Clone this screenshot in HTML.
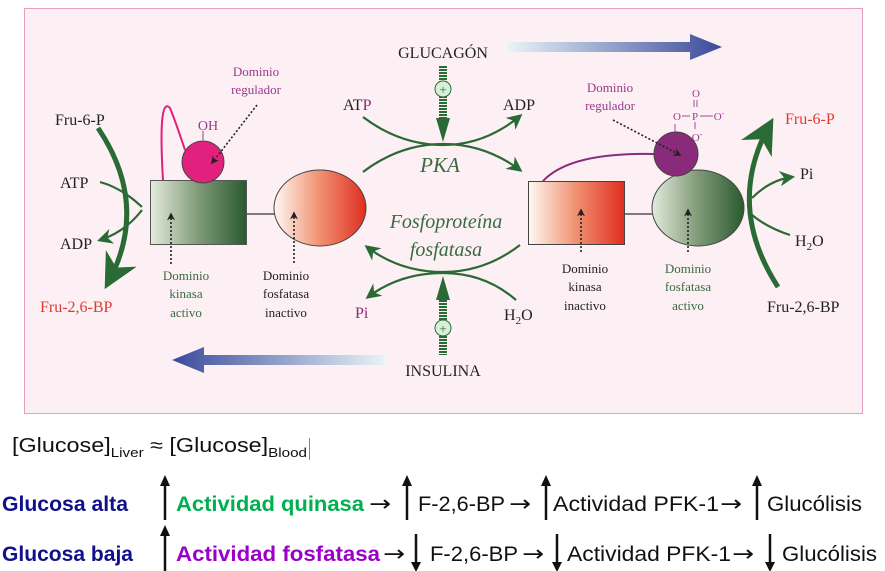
<!DOCTYPE html>
<html><head><meta charset="utf-8"><style>
html,body{margin:0;padding:0;background:#fff;width:885px;height:571px;overflow:hidden}
svg{display:block}
.s{font-family:"Liberation Serif",serif}
.n{font-family:"Liberation Sans",sans-serif;font-size:21px}
.ar{font-family:"DejaVu Sans",sans-serif;font-size:22px}
</style></head><body>
<svg width="885" height="571" viewBox="0 0 885 571" xmlns="http://www.w3.org/2000/svg">
<defs>
<linearGradient id="gk" x1="0" x2="1"><stop offset="0" stop-color="#e4ebdc"/><stop offset="0.5" stop-color="#809a78"/><stop offset="1" stop-color="#2a5a30"/></linearGradient>
<linearGradient id="rf" x1="0" x2="1"><stop offset="0" stop-color="#fff8f2"/><stop offset="0.5" stop-color="#f09070"/><stop offset="1" stop-color="#e02e20"/></linearGradient>
<linearGradient id="bl" x1="0" x2="1"><stop offset="0" stop-color="#e8f4f8"/><stop offset="1" stop-color="#3a4a9a"/></linearGradient>
<linearGradient id="bl2" x1="1" x2="0"><stop offset="0" stop-color="#e8f4f8"/><stop offset="1" stop-color="#3a4a9a"/></linearGradient>
<pattern id="hatch" width="8" height="3" patternUnits="userSpaceOnUse"><rect width="8" height="2" fill="#2a6a35"/></pattern>
<marker id="ah" viewBox="0 0 10 10" refX="8" refY="5" markerWidth="7" markerHeight="7" orient="auto-start-reverse"><path d="M0,0 L10,5 L0,10 L3,5z" fill="#2a6a35"/></marker>
<marker id="ahb" viewBox="0 0 10 10" refX="8" refY="5" markerWidth="5" markerHeight="5" orient="auto"><path d="M0,0 L10,5 L0,10 L3,5z" fill="#222"/></marker>
</defs>
<rect x="24.5" y="8.5" width="838" height="405" fill="#fdf0f5" stroke="#e4a0c4"/>

<path d="M508,42 H690 V34 L722,47 L690,60 V52 H508z" fill="url(#bl)"/>
<path d="M385,355 H204 V347 L172,360 L204,373 V365 H385z" fill="url(#bl2)"/>

<g class="s" font-size="16" fill="#222">
<text x="443" y="58" text-anchor="middle">GLUCAGÓN</text>
<text x="443" y="376" text-anchor="middle">INSULINA</text>
<text x="343" y="110">AT<tspan fill="#8a2a7a">P</tspan></text>
<text x="503" y="110">ADP</text>
<text x="55" y="125">Fru-6-P</text>
<text x="60" y="188">ATP</text>
<text x="60" y="249">ADP</text>
<text x="40" y="312" fill="#e03a30">Fru-2,6-BP</text>
<text x="355" y="318" fill="#8a2a7a">Pi</text>
<text x="504" y="320">H<tspan font-size="11" dy="4">2</tspan><tspan dy="-4">O</tspan></text>
<text x="785" y="124" fill="#e03a30">Fru-6-P</text>
<text x="800" y="179">Pi</text>
<text x="795" y="246">H<tspan font-size="11" dy="4">2</tspan><tspan dy="-4">O</tspan></text>
<text x="767" y="312">Fru-2,6-BP</text>
</g>
<g class="s" font-style="italic" fill="#3a6a40" text-anchor="middle">
<text x="440" y="172" font-size="21">PKA</text>
<text x="446" y="228" font-size="20">Fosfoproteína</text>
<text x="446" y="256" font-size="20">fosfatasa</text>
</g>

<rect x="439" y="66" width="8" height="58" fill="url(#hatch)"/>
<path d="M436,118 L443,142 L450,118z" fill="#2a6a35"/>
<circle cx="443" cy="89" r="8" fill="#d8f0d8" stroke="#2a6a35"/>
<text x="443" y="94" class="s" font-size="13" fill="#2a6a35" text-anchor="middle">+</text>
<rect x="439" y="295" width="8" height="60" fill="url(#hatch)"/>
<path d="M436,300 L443,276 L450,300z" fill="#2a6a35"/>
<circle cx="443" cy="328" r="8" fill="#d8f0d8" stroke="#2a6a35"/>
<text x="443" y="333" class="s" font-size="13" fill="#2a6a35" text-anchor="middle">+</text>

<g fill="none" stroke="#2a6a35" stroke-width="2.2">
<path d="M363,117 Q400,145 443,145 Q485,145 520,116" marker-end="url(#ah)"/>
<path d="M363,172 Q400,144 443,144 Q485,144 520,170" marker-end="url(#ah)"/>
<path d="M520,245 Q485,272 443,272 Q400,272 367,247" marker-end="url(#ah)"/>
<path d="M516,300 Q485,273 443,273 Q400,273 368,297" marker-end="url(#ah)"/>
<path d="M98,128 Q150,205 108,283" stroke-width="5" marker-end="url(#ah)"/>
<path d="M100,182 Q122,188 142,207"/>
<path d="M142,210 Q125,232 100,240" marker-end="url(#ah)"/>
<path d="M778,287 Q725,205 770,124" stroke-width="5" marker-end="url(#ah)"/>
<path d="M752,198 Q770,180 792,177" marker-end="url(#ah)"/>
<path d="M752,215 Q768,228 790,235"/>
</g>

<path d="M163,180 Q158,95 170,108 Q175,120 185,150" fill="none" stroke="#e0207a" stroke-width="2"/>
<rect x="150.5" y="180.5" width="96" height="64" fill="url(#gk)" stroke="#555"/>
<line x1="247" y1="214" x2="275" y2="214" stroke="#333" stroke-width="1.2"/>
<ellipse cx="320" cy="208" rx="46" ry="38" fill="url(#rf)" stroke="#444"/>
<line x1="203" y1="140" x2="203" y2="131" stroke="#9a3a8a"/>
<circle cx="203" cy="162" r="21" fill="#e2207e" stroke="#444"/>
<text x="208" y="130" class="s" font-size="14" fill="#9a3a8a" text-anchor="middle">OH</text>

<path d="M543,181 Q570,152 654,154" fill="none" stroke="#8a2a7a" stroke-width="2"/>
<rect x="528.5" y="181.5" width="96" height="63" fill="url(#rf)" stroke="#444"/>
<line x1="625" y1="214" x2="652" y2="214" stroke="#333" stroke-width="1.2"/>
<ellipse cx="698" cy="208" rx="46" ry="38" fill="url(#gk)" stroke="#444"/>
<circle cx="676" cy="154" r="22" fill="#8a2a7a" stroke="#444"/>
<g class="s" font-size="11" fill="#9a3a8a" text-anchor="middle">
<text x="696" y="97">O</text>
<text x="677" y="120">O</text><text x="695" y="120">P</text><text x="719" y="120">O<tspan font-size="8" dy="-4">-</tspan></text>
<text x="697" y="141">O<tspan font-size="8" dy="-4">-</tspan></text>
</g>
<g stroke="#9a3a8a" stroke-width="0.9">
<line x1="694" y1="100" x2="694" y2="107"/><line x1="697" y1="100" x2="697" y2="107"/>
<line x1="682" y1="116" x2="690" y2="116"/><line x1="700" y1="116" x2="713" y2="116"/>
<line x1="695" y1="122" x2="695" y2="129"/><line x1="675" y1="124" x2="675" y2="132"/>
</g>

<g stroke="#222" stroke-width="1.6" stroke-dasharray="2,2" fill="none">
<path d="M257,105 L212,163" marker-end="url(#ahb)"/>
<path d="M613,120 L680,155" marker-end="url(#ahb)"/>
<path d="M171,264 L171,214" marker-end="url(#ahb)"/>
<path d="M294,263 L294,213" marker-end="url(#ahb)"/>
<path d="M581,252 L581,210" marker-end="url(#ahb)"/>
<path d="M688,252 L688,210" marker-end="url(#ahb)"/>
</g>

<g class="s" font-size="13" text-anchor="middle">
<text x="256" y="76" fill="#9a3a8a">Dominio</text>
<text x="256" y="94" fill="#9a3a8a">regulador</text>
<text x="610" y="92" fill="#9a3a8a">Dominio</text>
<text x="610" y="110" fill="#9a3a8a">regulador</text>
<g fill="#3a6a40"><text x="186" y="280">Dominio</text><text x="186" y="298">kinasa</text><text x="186" y="317">activo</text></g>
<g fill="#222"><text x="286" y="280">Dominio</text><text x="286" y="298">fosfatasa</text><text x="286" y="317">inactivo</text></g>
<g fill="#222"><text x="585" y="273">Dominio</text><text x="585" y="291">kinasa</text><text x="585" y="310">inactivo</text></g>
<g fill="#3a6a40"><text x="688" y="273">Dominio</text><text x="688" y="291">fosfatasa</text><text x="688" y="310">activo</text></g>
</g>

<text x="12" y="452" font-family="Liberation Sans,sans-serif" font-size="20" fill="#111" textLength="295" lengthAdjust="spacingAndGlyphs">[Glucose]<tspan font-size="13" dy="5">Liver</tspan><tspan dy="-5"> ≈ [Glucose]</tspan><tspan font-size="13" dy="5">Blood</tspan></text>
<line x1="309.5" y1="438" x2="309.5" y2="460" stroke="#888"/>

<g class="n" font-weight="bold">
<text x="2" y="511" fill="#10108a" textLength="126" lengthAdjust="spacingAndGlyphs">Glucosa alta</text>
<text x="2" y="561" fill="#10108a" textLength="131" lengthAdjust="spacingAndGlyphs">Glucosa baja</text>
<text x="176" y="511" fill="#00b050" textLength="188" lengthAdjust="spacingAndGlyphs">Actividad quinasa</text>
<text x="176" y="561" fill="#9a00c8" textLength="204" lengthAdjust="spacingAndGlyphs">Actividad fosfatasa</text>
</g>
<g class="n" fill="#111">
<text x="418" y="511" textLength="87" lengthAdjust="spacingAndGlyphs">F-2,6-BP</text>
<text x="553" y="511" textLength="166" lengthAdjust="spacingAndGlyphs">Actividad PFK-1</text>
<text x="767" y="511" textLength="95" lengthAdjust="spacingAndGlyphs">Glucólisis</text>
<text x="430" y="561" textLength="88" lengthAdjust="spacingAndGlyphs">F-2,6-BP</text>
<text x="567" y="561" textLength="164" lengthAdjust="spacingAndGlyphs">Actividad PFK-1</text>
<text x="782" y="561" textLength="95" lengthAdjust="spacingAndGlyphs">Glucólisis</text>
</g>
<g class="ar" fill="#111">
<text x="369" y="511" textLength="22" lengthAdjust="spacingAndGlyphs">→</text>
<text x="509" y="511" textLength="22" lengthAdjust="spacingAndGlyphs">→</text>
<text x="720" y="511" textLength="22" lengthAdjust="spacingAndGlyphs">→</text>
<text x="383" y="561" textLength="22" lengthAdjust="spacingAndGlyphs">→</text>
<text x="522" y="561" textLength="22" lengthAdjust="spacingAndGlyphs">→</text>
<text x="732" y="561" textLength="22" lengthAdjust="spacingAndGlyphs">→</text>
</g>
<g stroke="#111" stroke-width="2.5">
<line x1="165" y1="484" x2="165" y2="520"/><line x1="407" y1="484" x2="407" y2="520"/>
<line x1="546" y1="484" x2="546" y2="520"/><line x1="757" y1="484" x2="757" y2="520"/>
<line x1="165" y1="534" x2="165" y2="571"/>
<line x1="416" y1="534" x2="416" y2="564"/><line x1="557" y1="534" x2="557" y2="564"/><line x1="770" y1="534" x2="770" y2="564"/>
</g>
<g fill="#111">
<path d="M160,486 L165,475 L170,486z"/><path d="M402,486 L407,475 L412,486z"/>
<path d="M541,486 L546,475 L551,486z"/><path d="M752,486 L757,475 L762,486z"/>
<path d="M160,536 L165,525 L170,536z"/>
<path d="M411,562 L416,572 L421,562z"/><path d="M552,562 L557,572 L562,562z"/><path d="M765,562 L770,572 L775,562z"/>
</g>
</svg>
</body></html>
